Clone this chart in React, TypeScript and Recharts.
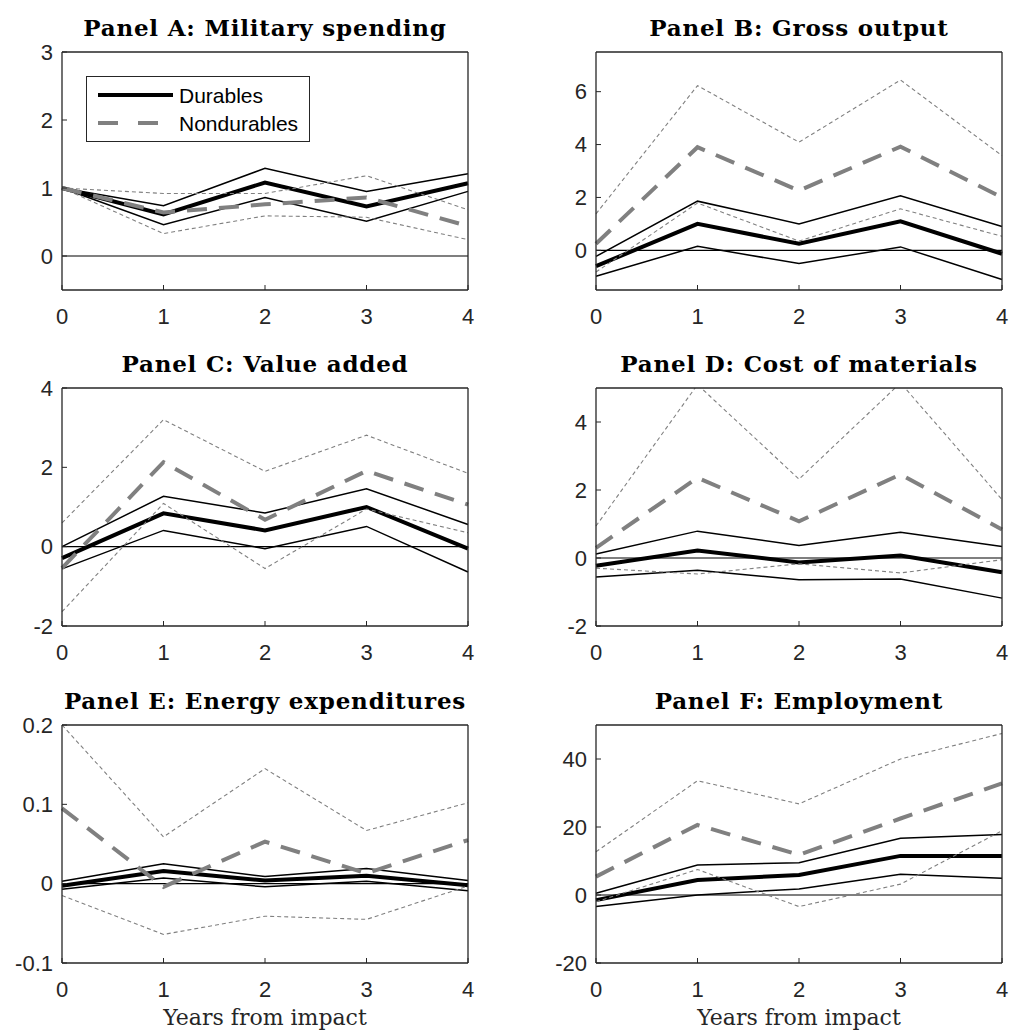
import { LineChart, Line, XAxis, YAxis, ReferenceLine, Legend } from 'recharts';

const years = [0, 1, 2, 3, 4];

// Panel A: Military spending
const milDur = [1.0, 0.61, 1.08, 0.73, 1.07];
const milDurHi = [1.0, 0.74, 1.29, 0.95, 1.21];
const milDurLo = [1.0, 0.46, 0.86, 0.51, 0.95];
const milNon = [1.0, 0.64, 0.76, 0.86, 0.44];
const milNonHi = [1.0, 0.92, 0.92, 1.18, 0.68];
const milNonLo = [1.0, 0.33, 0.59, 0.57, 0.24];

// Panel B: Gross output
const goDur = [-0.6, 1.0, 0.25, 1.1, -0.13];
const goDurHi = [-0.23, 1.86, 1.0, 2.06, 0.9];
const goDurLo = [-0.98, 0.15, -0.5, 0.13, -1.1];
const goNon = [0.25, 3.9, 2.26, 3.92, 2.0];
const goNonHi = [1.38, 6.23, 4.09, 6.44, 3.58];
const goNonLo = [-0.82, 1.79, 0.35, 1.57, 0.53];

// Panel C: Value added
const vaDur = [-0.29, 0.84, 0.41, 1.0, -0.05];
const vaDurHi = [0.0, 1.27, 0.85, 1.46, 0.56];
const vaDurLo = [-0.56, 0.41, -0.05, 0.51, -0.64];
const vaNon = [-0.54, 2.13, 0.68, 1.91, 1.06];
const vaNonHi = [0.6, 3.2, 1.9, 2.81, 1.85];
const vaNonLo = [-1.64, 1.09, -0.55, 0.95, 0.35];

// Panel D: Cost of materials
const cmDur = [-0.23, 0.22, -0.13, 0.07, -0.42];
const cmDurHi = [0.12, 0.79, 0.37, 0.76, 0.34];
const cmDurLo = [-0.56, -0.36, -0.64, -0.62, -1.18];
const cmNon = [0.3, 2.36, 1.08, 2.46, 0.84];
const cmNonHi = [0.94, 5.1, 2.32, 5.15, 1.72];
const cmNonLo = [-0.3, -0.47, -0.17, -0.44, -0.05];

// Panel E: Energy expenditures
const enDur = [-0.0025, 0.016, 0.004, 0.01, -0.002];
const enDurHi = [0.003, 0.025, 0.009, 0.019, 0.004];
const enDurLo = [-0.007, 0.007, -0.004, 0.003, -0.009];
const enNon = [0.095, -0.004, 0.053, 0.013, 0.055];
const enNonHi = [0.2, 0.059, 0.145, 0.067, 0.102];
const enNonLo = [-0.015, -0.064, -0.041, -0.045, -0.003];

// Panel F: Employment
const emDur = [-1.5, 4.4, 5.9, 11.5, 11.5];
const emDurHi = [0.5, 8.8, 9.5, 16.7, 17.8];
const emDurLo = [-3.4, 0, 1.8, 6.1, 4.9];
const emNon = [5.4, 20.6, 11.8, 22.5, 32.8];
const emNonHi = [12.7, 33.6, 26.8, 40, 47.5];
const emNonLo = [-2.0, 7.5, -3.4, 3.2, 18.9];

const INK = '#262626';
const GRAY = '#808080';
const SANS = '"Liberation Sans", Arial, sans-serif';
const SERIF = '"DejaVu Serif", serif';

function LegendBox() {
  return (
    <svg width={224} height={66} style={{ display: 'block' }}>
      <rect x={0.5} y={0.5} width={223} height={65} fill="#fff" stroke={INK} strokeWidth={1} />
      <line x1={12} x2={87} y1={19} y2={19} stroke="#000" strokeWidth={4} />
      <line x1={12} x2={87} y1={47} y2={47} stroke={GRAY} strokeWidth={4} strokeDasharray="20 20" />
      <text x={93} y={19} dominantBaseline="central" fontFamily={SANS} fontSize={21} fill="#000">Durables</text>
      <text x={93} y={47} dominantBaseline="central" fontFamily={SANS} fontSize={21} fill="#000">Nondurables</text>
    </svg>
  );
}

type PanelProps = {
  title: string;
  dur: number[]; durHi: number[]; durLo: number[];
  non: number[]; nonHi: number[]; nonLo: number[];
  domain: [number, number];
  ticks: number[];
  col: number;
  top: number;
  height: number;
  plotTop: number;
  plotBottom: number;
  xLabel?: boolean;
  legend?: boolean;
};

function Panel(p: PanelProps) {
  const data = years.map((y, i) => ({
    year: y,
    dur: p.dur[i], durHi: p.durHi[i], durLo: p.durLo[i],
    non: p.non[i], nonHi: p.nonHi[i], nonLo: p.nonLo[i],
  }));
  const left = p.col === 0 ? 0 : 505;
  const width = p.col === 0 ? 505 : 506;
  const plotL = p.col === 0 ? 62 : 91;
  const plotR = p.col === 0 ? 468 : 497;
  const margin = {
    top: p.plotTop - 1,
    right: width - plotR - 1,
    bottom: p.height - p.plotBottom - 40,
    left: plotL - 50,
  };
  const tickStyle = { fontSize: 22, fill: INK, fontFamily: SANS };
  return (
    <div style={{ position: 'absolute', left, top: p.top, width, height: p.height }}>
      <div style={{
        position: 'absolute', left: plotL - 20, width: plotR - plotL + 40, top: p.plotTop - 36,
        textAlign: 'center', fontFamily: SERIF, fontWeight: 'bold', fontSize: 23,
        letterSpacing: 0.8, lineHeight: '23px', color: '#000', whiteSpace: 'nowrap',
      }}>
        {p.title}
      </div>
      <LineChart width={width} height={p.height} data={data} margin={margin}>
        <XAxis
          xAxisId="b" type="number" dataKey="year" domain={[0, 4]} ticks={years}
          height={40} tickSize={-5} tickMargin={23} tick={tickStyle}
          axisLine={{ stroke: INK, strokeWidth: 1.3 }} tickLine={{ stroke: INK }}
          label={p.xLabel ? { value: 'Years from impact', position: 'bottom', offset: 6, fontFamily: SERIF, fontSize: 22, fill: INK } : undefined}
        />
        <XAxis
          xAxisId="t" orientation="top" type="number" domain={[0, 4]} ticks={years}
          height={1} tickSize={-5} tick={false}
          axisLine={{ stroke: INK, strokeWidth: 1.3 }} tickLine={{ stroke: INK }}
        />
        <YAxis
          yAxisId="l" type="number" domain={p.domain} ticks={p.ticks} allowDataOverflow
          width={50} tickSize={-5} tickMargin={14} tick={tickStyle}
          axisLine={{ stroke: INK, strokeWidth: 1.3 }} tickLine={{ stroke: INK }}
        />
        <YAxis
          yAxisId="r" orientation="right" type="number" domain={p.domain} ticks={p.ticks} allowDataOverflow
          width={1} tickSize={-5} tick={false}
          axisLine={{ stroke: INK, strokeWidth: 1.3 }} tickLine={{ stroke: INK }}
        />
        <ReferenceLine xAxisId="b" yAxisId="l" y={0} stroke="#000" strokeWidth={1.2} />
        <Line xAxisId="b" yAxisId="l" type="linear" dataKey="durHi" stroke="#000" strokeWidth={1.5} dot={false} activeDot={false} isAnimationActive={false} legendType="none" />
        <Line xAxisId="b" yAxisId="l" type="linear" dataKey="durLo" stroke="#000" strokeWidth={1.5} dot={false} activeDot={false} isAnimationActive={false} legendType="none" />
        <Line xAxisId="b" yAxisId="l" type="linear" dataKey="dur" name="Durables" stroke="#000" strokeWidth={4} dot={false} activeDot={false} isAnimationActive={false} />
        <Line xAxisId="b" yAxisId="l" type="linear" dataKey="nonHi" stroke={GRAY} strokeWidth={1.1} strokeDasharray="4 3" dot={false} activeDot={false} isAnimationActive={false} legendType="none" />
        <Line xAxisId="b" yAxisId="l" type="linear" dataKey="nonLo" stroke={GRAY} strokeWidth={1.1} strokeDasharray="4 3" dot={false} activeDot={false} isAnimationActive={false} legendType="none" />
        <Line xAxisId="b" yAxisId="l" type="linear" dataKey="non" name="Nondurables" stroke={GRAY} strokeWidth={4} strokeDasharray="20 12" dot={false} activeDot={false} isAnimationActive={false} />
        {p.legend && (
          <Legend
            layout="vertical" align="center" verticalAlign="middle"
            wrapperStyle={{ left: 86, top: 76, width: 224, height: 66 }}
            content={() => <LegendBox />}
          />
        )}
      </LineChart>
    </div>
  );
}

export default function App() {
  return (
    <div style={{ position: 'absolute', left: 0, top: 0, width: 1011, height: 1032, background: '#fff' }}>
      <Panel title="Panel A: Military spending" dur={milDur} durHi={milDurHi} durLo={milDurLo}
        non={milNon} nonHi={milNonHi} nonLo={milNonLo} domain={[-0.5, 3]} ticks={[0, 1, 2, 3]}
        col={0} top={0} height={340} plotTop={52} plotBottom={290} legend />
      <Panel title="Panel B: Gross output" dur={goDur} durHi={goDurHi} durLo={goDurLo}
        non={goNon} nonHi={goNonHi} nonLo={goNonLo} domain={[-1.5, 7.5]} ticks={[0, 2, 4, 6]}
        col={1} top={0} height={340} plotTop={52} plotBottom={290} />
      <Panel title="Panel C: Value added" dur={vaDur} durHi={vaDurHi} durLo={vaDurLo}
        non={vaNon} nonHi={vaNonHi} nonLo={vaNonLo} domain={[-2, 4]} ticks={[-2, 0, 2, 4]}
        col={0} top={340} height={340} plotTop={48} plotBottom={286} />
      <Panel title="Panel D: Cost of materials" dur={cmDur} durHi={cmDurHi} durLo={cmDurLo}
        non={cmNon} nonHi={cmNonHi} nonLo={cmNonLo} domain={[-2, 5]} ticks={[-2, 0, 2, 4]}
        col={1} top={340} height={340} plotTop={48} plotBottom={286} />
      <Panel title="Panel E: Energy expenditures" dur={enDur} durHi={enDurHi} durLo={enDurLo}
        non={enNon} nonHi={enNonHi} nonLo={enNonLo} domain={[-0.1, 0.2]} ticks={[-0.1, 0, 0.1, 0.2]}
        col={0} top={680} height={352} plotTop={45} plotBottom={283} xLabel />
      <Panel title="Panel F: Employment" dur={emDur} durHi={emDurHi} durLo={emDurLo}
        non={emNon} nonHi={emNonHi} nonLo={emNonLo} domain={[-20, 50]} ticks={[-20, 0, 20, 40]}
        col={1} top={680} height={352} plotTop={45} plotBottom={283} xLabel />
    </div>
  );
}
